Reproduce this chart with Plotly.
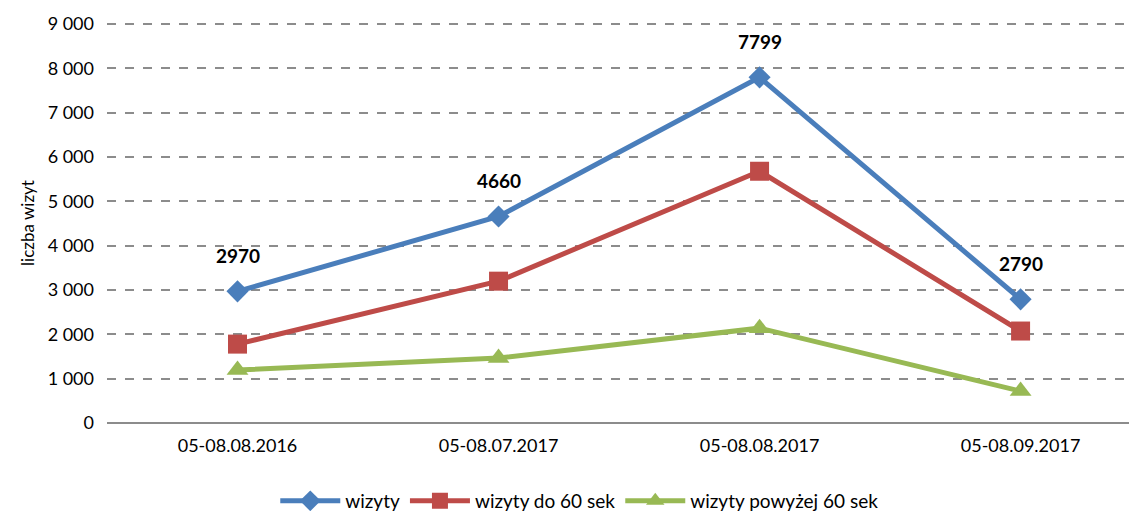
import plotly.graph_objects as go

categories = ["05-08.08.2016", "05-08.07.2017", "05-08.08.2017", "05-08.09.2017"]
wizyty = [2970, 4660, 7799, 2790]
wizyty_do_60 = [1780, 3200, 5680, 2075]
wizyty_pow_60 = [1195, 1465, 2140, 720]
y_ticks = [0, 1000, 2000, 3000, 4000, 5000, 6000, 7000, 8000, 9000]
y_tick_labels = ["0", "1 000", "2 000", "3 000", "4 000", "5 000", "6 000", "7 000", "8 000", "9 000"]

FONT = "Lato, Noto Sans, sans-serif"
fig = go.Figure()
fig.add_trace(go.Scatter(x=categories, y=wizyty, name="wizyty", mode="lines+markers",
                         line=dict(color="#4A7EBB", width=5),
                         marker=dict(symbol="diamond", size=17, color="#4A7EBB")))
fig.add_trace(go.Scatter(x=categories, y=wizyty_do_60, name="wizyty do 60 sek", mode="lines+markers",
                         line=dict(color="#BE4B48", width=5),
                         marker=dict(symbol="square", size=19, color="#BE4B48")))
fig.add_trace(go.Scatter(x=categories, y=wizyty_pow_60, name="wizyty powyżej 60 sek", mode="lines+markers",
                         line=dict(color="#98B954", width=5),
                         marker=dict(symbol="triangle-up", size=19, color="#98B954")))

for c, v in zip(categories, wizyty):
    fig.add_annotation(x=c, y=v, text=f"<b>{v}</b>", showarrow=False, yshift=36,
                       font=dict(family=FONT, size=19, color="black"))

# page body has an 8px margin, so the figure is sized/offset to compensate
fig.update_layout(
    width=1129, height=503,
    margin=dict(l=99, r=0, t=15, b=88, autoexpand=False),
    plot_bgcolor="white", paper_bgcolor="white",
    font=dict(family=FONT, size=18, color="black"),
    showlegend=True,
    legend=dict(orientation="h", x=0.506, xanchor="center", xref="container",
                y=0.02, yanchor="middle", yref="container",
                font=dict(size=19), itemwidth=60, tracegroupgap=0),
    xaxis=dict(type="category", range=[-0.5, 3.446], showgrid=False, ticks="",
               showline=False, zeroline=False, tickfont=dict(size=18),
               ticklabelstandoff=10),
    yaxis=dict(range=[0, 9025], tickvals=y_ticks, ticktext=y_tick_labels,
               showgrid=True, gridcolor="#8C8C8C", griddash="dash", gridwidth=1.5,
               zeroline=True, zerolinecolor="#8C8C8C", zerolinewidth=1.5,
               ticks="", ticklen=0, tickfont=dict(size=18), ticklabelstandoff=12,
               title=dict(text="liczba wizyt", font=dict(size=17), standoff=8)),
)
fig.write_html("out.html")
